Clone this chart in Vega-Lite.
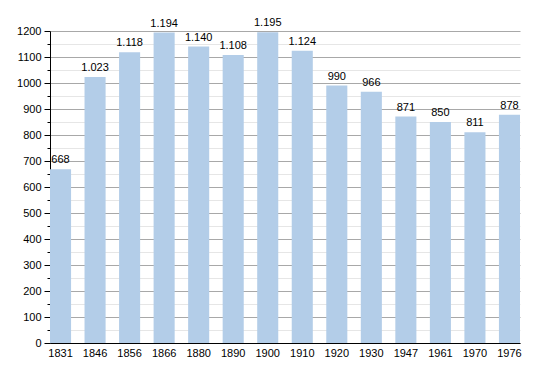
{
  "$schema": "https://vega.github.io/schema/vega-lite/v6.json",
  "autosize": "none",
  "width": 470,
  "height": 312,
  "padding": {"left": 50, "top": 31, "right": 30, "bottom": 30},
  "background": "white",
  "config": {"view": {"stroke": null}, "font": "Liberation Sans"},
  "data": {"values": [
    {"year": "1831", "pop": 668, "label": "668"},
    {"year": "1846", "pop": 1023, "label": "1.023"},
    {"year": "1856", "pop": 1118, "label": "1.118"},
    {"year": "1866", "pop": 1194, "label": "1.194"},
    {"year": "1880", "pop": 1140, "label": "1.140"},
    {"year": "1890", "pop": 1108, "label": "1.108"},
    {"year": "1900", "pop": 1195, "label": "1.195"},
    {"year": "1910", "pop": 1124, "label": "1.124"},
    {"year": "1920", "pop": 990, "label": "990"},
    {"year": "1930", "pop": 966, "label": "966"},
    {"year": "1947", "pop": 871, "label": "871"},
    {"year": "1961", "pop": 850, "label": "850"},
    {"year": "1970", "pop": 811, "label": "811"},
    {"year": "1976", "pop": 878, "label": "878"}
  ]},
  "encoding": {
    "x": {
      "field": "year", "type": "ordinal", "sort": null,
      "scale": {"paddingInner": 0.39, "paddingOuter": 0},
      "axis": {"title": null, "labelAngle": 0, "ticks": false, "domainColor": "black", "labelColor": "black", "labelFontSize": 11, "labelPadding": 4}
    },
    "y": {
      "field": "pop", "type": "quantitative",
      "scale": {"domain": [0, 1200], "nice": false},
      "axis": {
        "title": null,
        "values": [0,50,100,150,200,250,300,350,400,450,500,550,600,650,700,750,800,850,900,950,1000,1050,1100,1150,1200],
        "labelExpr": "datum.value % 100 === 0 ? datum.value : ''",
        "gridColor": {"condition": {"test": "datum.value % 100 === 0", "value": "#a8a8a8"}, "value": "#e6e6e6"},
        "gridWidth": 1,
        "tickColor": "black",
        "tickSize": {"condition": {"test": "datum.value % 100 === 0", "value": 6}, "value": 3},
        "domainColor": "black",
        "labelColor": "black", "labelFontSize": 11, "labelPadding": 3
      }
    }
  },
  "layer": [
    {"mark": {"type": "bar", "color": "#b3cde8"}},
    {"mark": {"type": "text", "baseline": "bottom", "dy": -4, "fontSize": 11, "color": "black"},
     "encoding": {"text": {"field": "label"}}}
  ]
}
